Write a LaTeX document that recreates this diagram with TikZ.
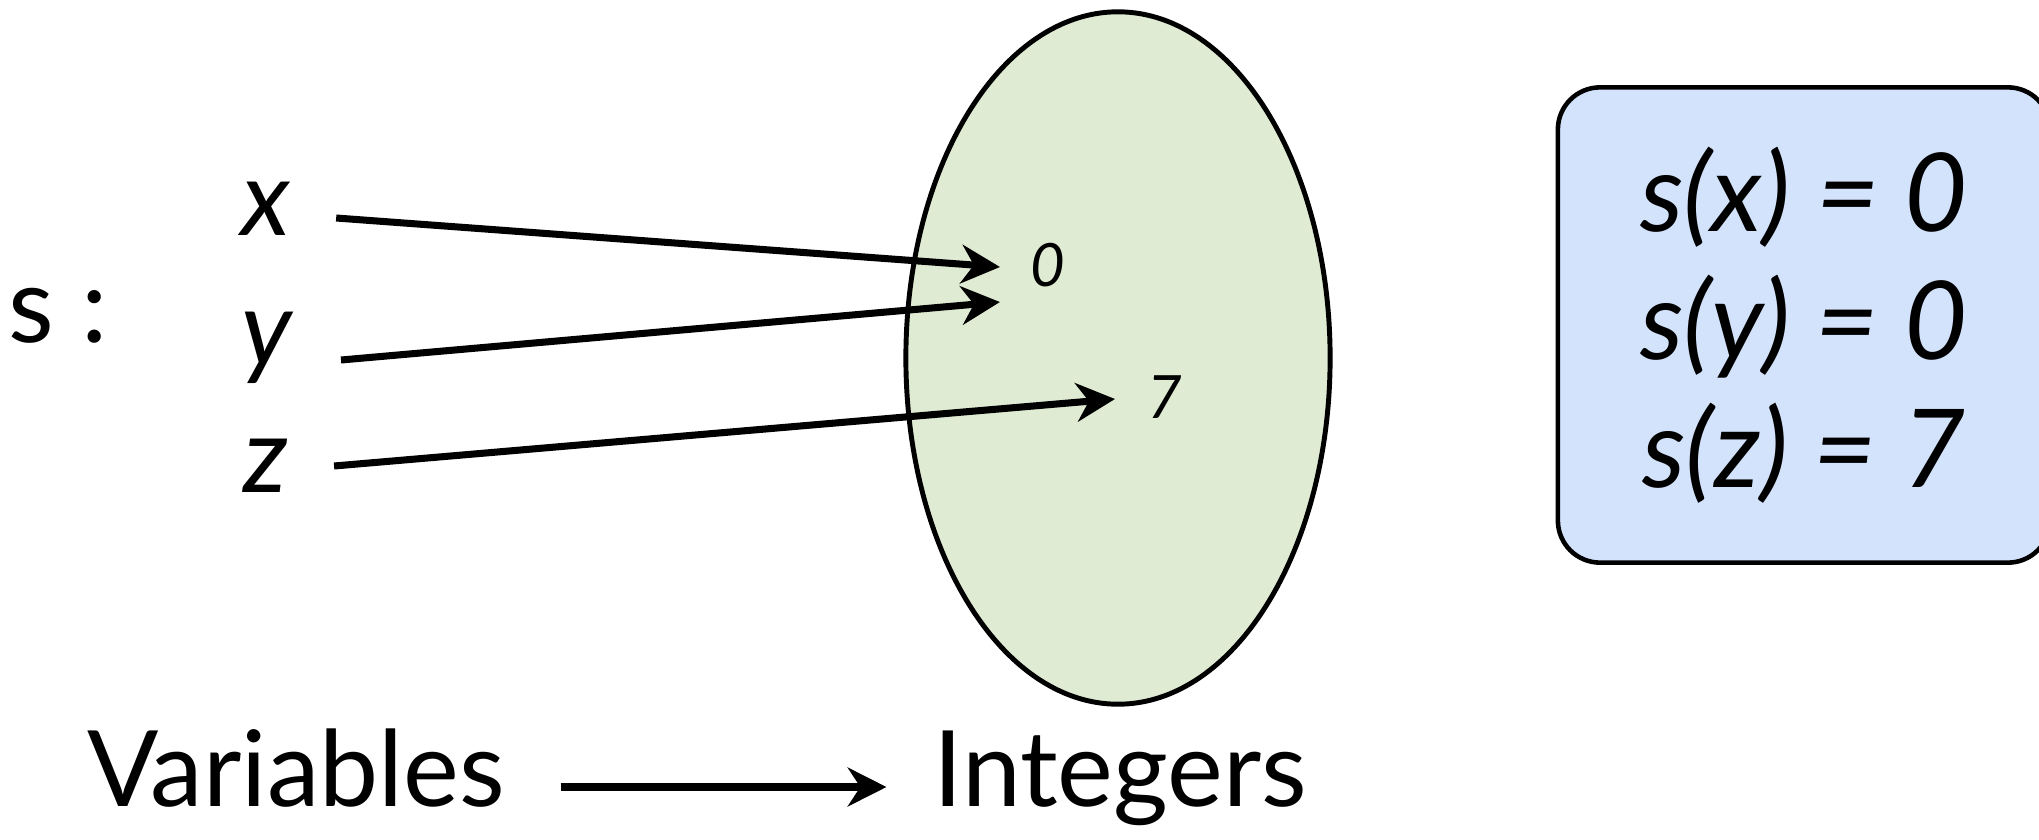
\documentclass[tikz,border=0pt]{standalone}
\usepackage{fontspec}
\setmainfont{Lato}
\usetikzlibrary{shapes.geometric,arrows.meta,positioning,calc}

\definecolor{setgreen}{RGB}{223,235,211}
\definecolor{boxblue}{RGB}{212,227,252}

\tikzset{
  maparrow/.style={-{Stealth[length=11pt,width=11pt]}, line width=2pt},
  bigarrow/.style={-{Stealth[length=11pt,width=11pt]}, line width=2.3pt},
  varlabel/.style={font=\fontsize{30}{36}\selectfont\itshape, inner sep=0pt, anchor=base},
  vallabel/.style={font=\fontsize{17}{20}\selectfont\itshape, inner sep=0pt, anchor=base},
  setlabel/.style={font=\fontsize{30}{36}\selectfont, inner sep=0pt, anchor=base},
  eqbox/.style={draw, line width=1.3pt, fill=boxblue, rounded corners=12pt,
    minimum width=4.92cm, minimum height=4.75cm, align=center,
    font=\fontsize{31}{36.4}\selectfont\itshape},
}

\begin{document}
\begin{tikzpicture}[x=0.01cm, y=-0.01cm]
  \useasboundingbox (0,0) rectangle (2039,839);

  % Conjunto dos inteiros
  \node[ellipse, draw, line width=1.4pt, fill=setgreen, minimum width=4.24cm,
        minimum height=6.92cm, inner sep=0pt] (intset) at (1118,358) {};

  % Rotulos
  \node[setlabel] (sname) at (58,342) {s :};
  \node[varlabel] (lx) at (266,235) {x};
  \node[varlabel] (ly) at (267,365) {y};
  \node[varlabel] (lz) at (266,492) {z};
  \node[vallabel] (v0) at (1048,286) {0};
  \node[vallabel] (v7) at (1165,418) {7};

  % Setas do mapeamento
  \draw[maparrow] ($(lx.base east)+(45,-17)$) -- ($(v0.base west)+(-30,-19)$);
  \draw[maparrow] ($(ly.base east)+(48,-5)$) -- ($(v0.base west)+(-30,16)$);
  \draw[maparrow] ($(lz.base east)+(45,-26)$) -- ($(v7.base west)+(-32,-19)$);

  % Caixa com os valores
  \node[eqbox] (store) at (1804,325) {s(x) = 0\\ s(y) = 0\\ s(z) = 7};

  % Variables -> Integers
  \node[setlabel] (vars) at (296,806) {Variables};
  \node[setlabel] (ints) at (1120,806) {Integers};
  \draw[bigarrow] ($(vars.base east)+(55,-19)$) -- ($(ints.base west)+(-46,-19)$);
\end{tikzpicture}
\end{document}
